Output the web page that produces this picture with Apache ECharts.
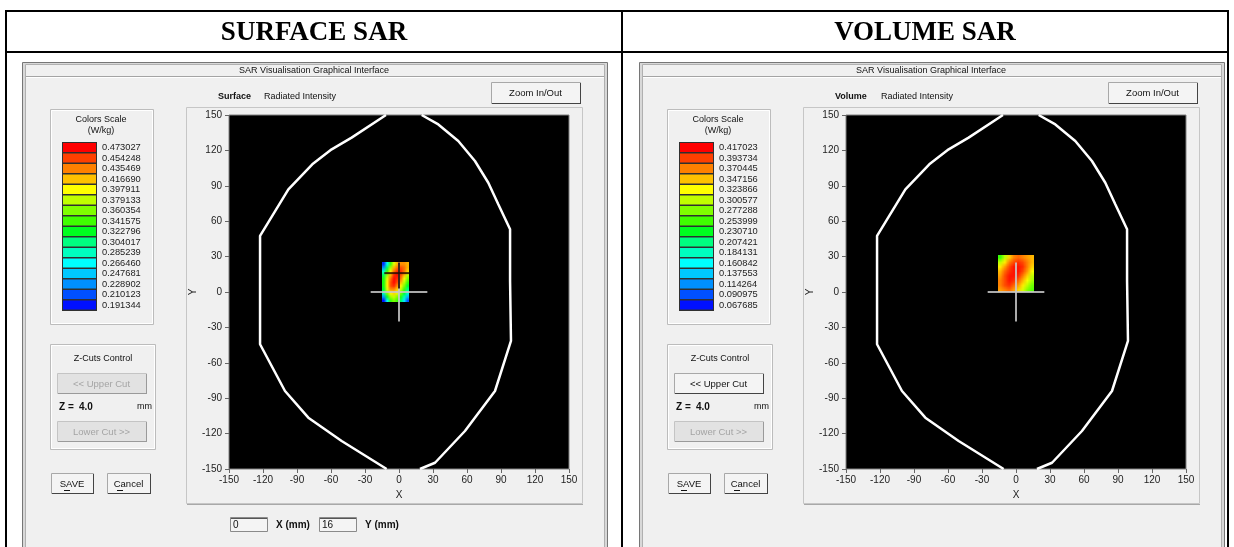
<!DOCTYPE html>
<html><head><meta charset="utf-8">
<script src="https://cdn.jsdelivr.net/npm/echarts@6/dist/echarts.min.js"></script>
<style>html,body{margin:0;padding:0;background:#fff}#c{width:1234px;height:547px}</style>
</head><body><div id="c"></div><script>
// ---------------- data ----------------
const panelTitles = ['SURFACE SAR', 'VOLUME SAR'];
const modeNames = ['Surface', 'Volume'];
const axisTicks = [-150, 150, 30]; // min, max, step (mm)
const surfaceScale = ['0.473027','0.454248','0.435469','0.416690','0.397911','0.379133','0.360354','0.341575','0.322796','0.304017','0.285239','0.266460','0.247681','0.228902','0.210123','0.191344'];
const volumeScale  = ['0.417023','0.393734','0.370445','0.347156','0.323866','0.300577','0.277288','0.253999','0.230710','0.207421','0.184131','0.160842','0.137553','0.114264','0.090975','0.067685'];
const scaleColors = ['#ff0000','#ff4000','#ff8000','#ffc000','#ffff00','#c0ff00','#80ff00','#40ff00','#00ff20','#00ff80','#00ffc0','#00ffff','#00c8ff','#0090ff','#0050ff','#0010ff'];
// head outline (mm)
const outlineLeftSide  = [[-11.5,150],[-41.8,130.8],[-59.4,120.9],[-76.5,108.2],[-97.6,87],[-122.6,47.5],[-122.6,-44.3],[-100.6,-83.9],[-80,-106.5],[-50.6,-126.3],[-10.9,-150]];
const outlineRightSide = [[20,150],[34.7,142],[52.3,128],[67,111],[78.8,92.6],[87.6,74.3],[98,53.1],[98,9.3],[98.8,-41.5],[84.7,-83.9],[58.2,-117.8],[31.8,-144.7],[18.5,-150]];
// surface SAR patch (W/kg), rows top to bottom
const surfX = [-13.5,-10.5,-7.5,-4.5,-1.5,1.5,4.5,7.5];
const surfY = [23.8,20.7,17.6,14.5,11.4,8.3,5.2,2.1,-1.0,-4.1,-7.2];
const surfV = [
  [0.20,0.27,0.34,0.39,0.42,0.43,0.43,0.42],
  [0.23,0.31,0.37,0.42,0.44,0.45,0.44,0.42],
  [0.28,0.34,0.40,0.44,0.46,0.46,0.44,0.41],
  [0.31,0.37,0.42,0.46,0.47,0.45,0.42,0.38],
  [0.33,0.39,0.44,0.47,0.46,0.44,0.40,0.36],
  [0.33,0.40,0.45,0.47,0.45,0.42,0.38,0.34],
  [0.33,0.40,0.45,0.46,0.43,0.40,0.36,0.32],
  [0.32,0.39,0.43,0.43,0.41,0.38,0.34,0.30],
  [0.29,0.36,0.40,0.41,0.39,0.36,0.32,0.28],
  [0.23,0.32,0.37,0.38,0.36,0.33,0.29,0.24],
  [0.19,0.27,0.34,0.36,0.34,0.31,0.26,0.21]
];
// volume SAR patch (W/kg), rows top to bottom
const volX = [-14,-10,-6,-2,2,6,10,14];
const volY = [29.25,25.35,21.45,17.55,13.65,9.75,5.85,1.95];
const volV = [
  [0.25,0.30,0.34,0.37,0.38,0.37,0.36,0.35],
  [0.30,0.33,0.37,0.39,0.40,0.39,0.37,0.35],
  [0.33,0.36,0.39,0.41,0.41,0.40,0.37,0.34],
  [0.35,0.38,0.40,0.41,0.41,0.39,0.36,0.32],
  [0.36,0.39,0.41,0.41,0.40,0.37,0.34,0.30],
  [0.37,0.39,0.41,0.40,0.38,0.35,0.32,0.29],
  [0.37,0.39,0.40,0.38,0.36,0.33,0.30,0.27],
  [0.36,0.37,0.38,0.36,0.34,0.31,0.28,0.26]
];
const crossH = [[-25,0],[25,0]];
const crossV = [[0,25],[0,-25]];
const probeH = [[-13,16],[9,16]];
const probeV = [[0,25],[0,3]];
const probeXY = ['0','16'];
const zValue = '4.0';

// ---------------- chrome ----------------
const F = "'Liberation Sans',Arial,sans-serif";
const G = [];
function R(x,y,w,h,fill,stroke,lw){G.push({type:'rect',shape:{x:x,y:y,width:w,height:h},style:{fill:fill||'none',stroke:stroke||'none',lineWidth:lw||1},silent:true});}
function L(x1,y1,x2,y2,stroke,lw){G.push({type:'line',shape:{x1:x1,y1:y1,x2:x2,y2:y2},style:{stroke:stroke,lineWidth:lw||1},silent:true});}
function T(x,y,text,o){o=o||{};G.push({type:'text',x:x,y:y,style:{text:text,fill:o.fill||'#111',fontSize:o.size||10,fontFamily:o.family||F,fontWeight:o.weight||'normal',align:o.align||'left',verticalAlign:'middle',textAlign:o.align||'left',textVerticalAlign:'middle'},silent:true});}
function button(x,y,w,h,label,enabled){
  R(x+.5,y+.5,w,h,enabled?'#f4f4f4':'#e2e2e2',enabled?'#a8a8a8':'#c4c4c4');
  L(x+1,y+h+.5,x+w+1,y+h+.5,enabled?'#444':'#9a9a9a');
  L(x+w+.5,y+1,x+w+.5,y+h+1,enabled?'#444':'#9a9a9a');
  T(x+w/2,y+h/2+1,label,{align:'center',size:9.5,fill:enabled?'#111':'#a4a4a4'});
}
// table
T(314,33,panelTitles[0],{family:"'Liberation Serif',serif",size:27,weight:'bold',align:'center',fill:'#000'});
T(925,33,panelTitles[1],{family:"'Liberation Serif',serif",size:27,weight:'bold',align:'center',fill:'#000'});
L(5,11,1229,11,'#000',2); L(5,52,1229,52,'#000',2);
L(6,10,6,547,'#000',2); L(622,10,622,547,'#000',2); L(1228,10,1228,547,'#000',2);

[0,617].forEach(function(o,k){
  R(22.5+o,62.5,585,500,'#d8d8d8','#767676');
  R(25.5+o,64.5,579,500,'#f0f0f0','#b0b0b0');
  L(26+o,76.5,604+o,76.5,'#a4a4a4'); L(26+o,77.5,604+o,77.5,'#ffffff');
  T(314+o,70.5,'SAR Visualisation Graphical Interface',{align:'center',size:9});
  T(218+o,97,modeNames[k],{weight:'bold',size:9});
  T(264+o,97,'Radiated Intensity',{size:9});
  button(491+o,82,89,21,'Zoom In/Out',true);
  // plot panel
  R(186.5+o,107.5,396,396,'#f0f0f0','#c6c6c6');
  L(187+o,504.5,583+o,504.5,'#a8a8a8');
  // colour scale
  R(50.5+o,109.5,103,215,'none','#bcbcbc'); R(51.5+o,110.5,101,213,'none','#ffffff');
  T(101+o,120,'Colors Scale',{align:'center',size:9});
  T(101+o,130.5,'(W/kg)',{align:'center',size:9});
  const labels = k===0?surfaceScale:volumeScale;
  const bh = 168/16;
  R(62+o,142,35,169,'#303030');
  scaleColors.forEach(function(c,i){ R(63+o,143+i*bh,33,bh-1.4,c); });
  labels.forEach(function(t,i){ T(102+o,147.5+i*bh,t,{size:9.3,fill:'#222'}); });
  // z-cuts
  R(50.5+o,344.5,105,105,'none','#bcbcbc'); R(51.5+o,345.5,103,103,'none','#ffffff');
  T(103+o,359,'Z-Cuts Control',{align:'center',size:9});
  button(57+o,373,89,20,'<< Upper Cut',k===1);
  T(59+o,407,'Z =',{weight:'bold',size:10});
  T(79+o,407,zValue,{weight:'bold',size:10});
  T(137+o,407,'mm',{size:9});
  button(57+o,421,89,20,'Lower Cut >>',false);
  button(51+o,473,42,20,'SAVE',true);
  L(64+o,490.5,70+o,490.5,'#111');
  button(107+o,473,43,20,'Cancel',true);
  L(117+o,490.5,123+o,490.5,'#111');
});
// probe boxes (surface only)
R(230.5,517.5,37,14,'#f4f4f4','#8a8a8a'); L(231,518.5,267,518.5,'#555'); T(233,525,probeXY[0],{size:10});
T(276,525,'X (mm)',{weight:'bold',size:10});
R(319.5,517.5,37,14,'#f4f4f4','#8a8a8a'); L(320,518.5,356,518.5,'#555'); T(322,525,probeXY[1],{size:10});
T(365,525,'Y (mm)',{weight:'bold',size:10});
G.forEach(function(e,i){ e.z=-10; e.z2=i; });

// ---------------- series ----------------
function heatData(xs,ys,vals){const d=[];ys.forEach(function(y,r){xs.forEach(function(x,c){d.push([x,y,vals[r][c]]);});});return d;}
// each cell's colour comes from the visualMap; the cells are painted into a tiny
// bitmap (one pixel per cell) that is stretched over the cells' extent with smoothing
function heatRender(xs,ys){
  const nx=xs.length, ny=ys.length, w=Math.abs(xs[1]-xs[0]), h=Math.abs(ys[1]-ys[0]);
  const buf=[];
  return function(params,api){
    const i=params.dataIndex;
    buf[i]=api.visual('color');
    if(i!==nx*ny-1) return null;
    const cv=document.createElement('canvas'); cv.width=nx; cv.height=ny;
    const ctx=cv.getContext('2d');
    for(let r=0;r<ny;r++) for(let c=0;c<nx;c++){ ctx.fillStyle=buf[r*nx+c]; ctx.fillRect(c,r,1,1); }
    const a=api.coord([xs[0]-w/2,ys[0]+h/2]), b=api.coord([xs[nx-1]+w/2,ys[ny-1]-h/2]);
    return {type:'image',style:{image:cv,x:a[0],y:a[1],width:b[0]-a[0],height:b[1]-a[1]}};
  };
}
function lineS(g,data,color,width){
  return {type:'line',xAxisIndex:g,yAxisIndex:g,data:data,showSymbol:false,symbol:'none',silent:true,
    lineStyle:{color:color,width:width},z:3,animation:false};
}
const series = [
  {type:'custom',xAxisIndex:0,yAxisIndex:0,data:heatData(surfX,surfY,surfV),renderItem:heatRender(surfX,surfY),encode:{x:0,y:1},silent:true,z:2,animation:false},
  {type:'custom',xAxisIndex:1,yAxisIndex:1,data:heatData(volX,volY,volV),renderItem:heatRender(volX,volY),encode:{x:0,y:1},silent:true,z:2,animation:false}
];
[0,1].forEach(function(g){
  series.push(lineS(g,outlineLeftSide,'#ffffff',2.5));
  series.push(lineS(g,outlineRightSide,'#ffffff',2.5));
  series.push(lineS(g,crossH,'rgba(200,200,200,0.85)',2));
  series.push(lineS(g,crossV,'rgba(200,200,200,0.85)',2));
});
series.push(lineS(0,probeH,'rgba(40,10,0,0.85)',2));
series.push(lineS(0,probeV,'rgba(40,10,0,0.85)',2));

function xAx(g){return {type:'value',gridIndex:g,min:axisTicks[0],max:axisTicks[1],interval:axisTicks[2],name:'X',nameLocation:'middle',nameGap:19,
  nameTextStyle:{fontSize:10,color:'#222',fontFamily:F},axisLine:{show:false,onZero:false},axisTick:{length:4,lineStyle:{color:'#666'}},
  axisLabel:{margin:6,fontSize:10,color:'#222',fontFamily:F},splitLine:{show:false}};}
function yAx(g){return {type:'value',gridIndex:g,min:axisTicks[0],max:axisTicks[1],interval:axisTicks[2],name:'Y',nameLocation:'middle',nameGap:31,
  nameTextStyle:{fontSize:10,color:'#222',fontFamily:F},axisLine:{show:false,onZero:false},axisTick:{length:4,lineStyle:{color:'#666'}},
  axisLabel:{margin:7,fontSize:10,color:'#222',fontFamily:F},splitLine:{show:false}};}

const chart = echarts.init(document.getElementById('c'),null,{renderer:'canvas'});
chart.setOption({
  backgroundColor:'#ffffff',
  animation:false,
  grid:[
    {left:229,top:115,width:340,height:354,show:true,backgroundColor:'#000',borderColor:'#808080',borderWidth:1},
    {left:846,top:115,width:340,height:354,show:true,backgroundColor:'#000',borderColor:'#808080',borderWidth:1}
  ],
  xAxis:[xAx(0),xAx(1)],
  yAxis:[yAx(0),yAx(1)],
  visualMap:[
    {type:'continuous',show:false,seriesIndex:0,dimension:2,min:parseFloat(surfaceScale[15]),max:parseFloat(surfaceScale[0]),inRange:{color:scaleColors.slice().reverse()}},
    {type:'continuous',show:false,seriesIndex:1,dimension:2,min:parseFloat(volumeScale[15]),max:parseFloat(volumeScale[0]),inRange:{color:scaleColors.slice().reverse()}}
  ],
  graphic:G,
  series:series
});
</script></body></html>
